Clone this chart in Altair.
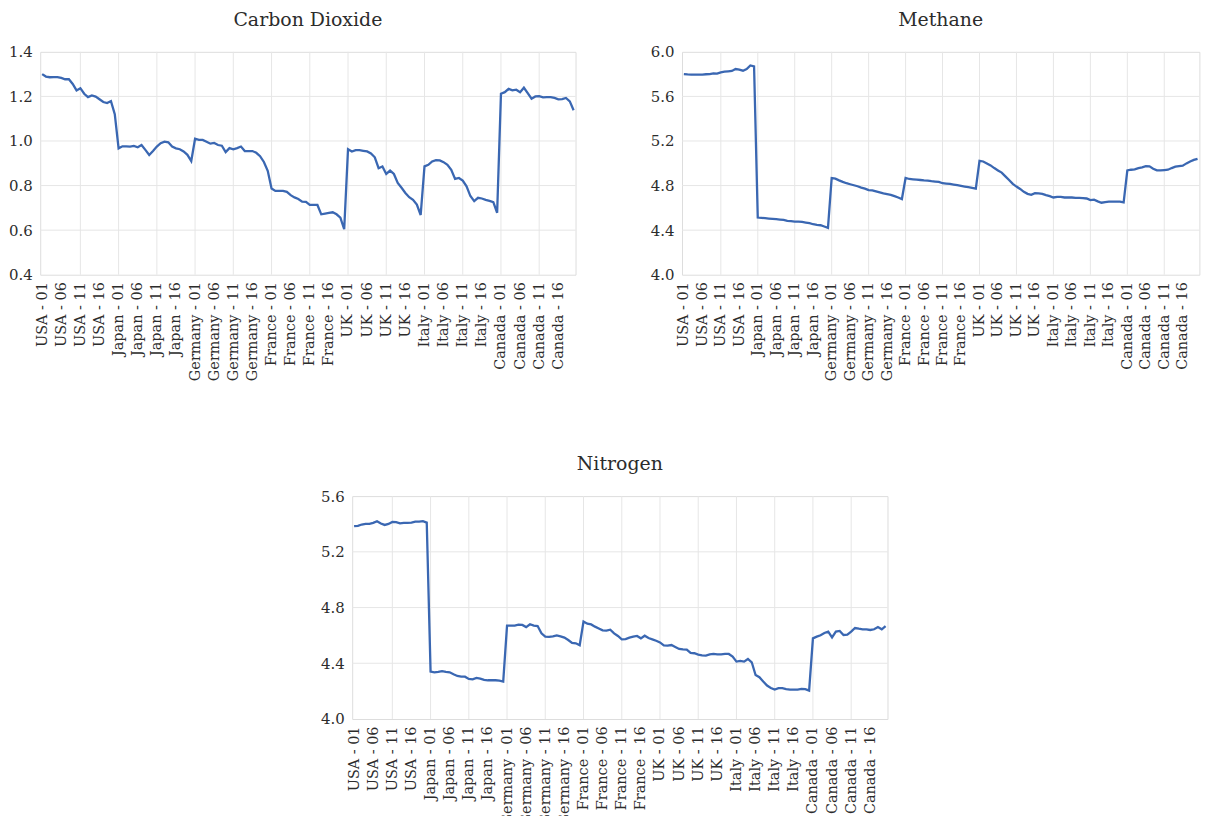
import altair as alt
import pandas as pd

countries = ["USA", "Japan", "Germany", "France", "UK", "Italy", "Canada"]
periods = [f"{k:02d}" for k in range(1, 21)]
categories = [f"{c} - {p}" for c in countries for p in periods]

co2 = [
    1.300, 1.289, 1.286, 1.287, 1.287, 1.283, 1.277, 1.277, 1.256, 1.227, 1.237, 1.212, 1.197, 1.204, 1.199, 1.187, 1.175, 1.170, 1.179, 1.120,
    0.967, 0.976, 0.976, 0.975, 0.978, 0.972, 0.982, 0.960, 0.937, 0.955, 0.975, 0.990, 0.997, 0.994, 0.975, 0.967, 0.963, 0.953, 0.938, 0.910,
    1.010, 1.005, 1.005, 0.997, 0.988, 0.991, 0.982, 0.979, 0.950, 0.968, 0.963, 0.968, 0.975, 0.955, 0.955, 0.955, 0.947, 0.932, 0.906, 0.866,
    0.787, 0.776, 0.776, 0.776, 0.772, 0.757, 0.747, 0.740, 0.728, 0.727, 0.713, 0.713, 0.713, 0.671, 0.674, 0.677, 0.680, 0.671, 0.656, 0.604,
    0.963, 0.953, 0.959, 0.959, 0.956, 0.953, 0.944, 0.927, 0.878, 0.886, 0.852, 0.867, 0.852, 0.812, 0.790, 0.767, 0.748, 0.736, 0.715, 0.668,
    0.886, 0.893, 0.908, 0.914, 0.913, 0.905, 0.893, 0.871, 0.830, 0.834, 0.822, 0.797, 0.753, 0.730, 0.745, 0.742, 0.736, 0.731, 0.726, 0.678,
    1.212, 1.219, 1.234, 1.227, 1.230, 1.219, 1.239, 1.215, 1.190, 1.200, 1.201, 1.196, 1.197, 1.197, 1.193, 1.187, 1.188, 1.193, 1.178, 1.138,
]

methane = [
    5.801, 5.798, 5.796, 5.796, 5.796, 5.796, 5.799, 5.800, 5.807, 5.804, 5.816, 5.822, 5.825, 5.828, 5.846, 5.840, 5.831, 5.846, 5.878, 5.870,
    4.513, 4.510, 4.507, 4.504, 4.501, 4.498, 4.495, 4.492, 4.483, 4.480, 4.477, 4.477, 4.474, 4.468, 4.462, 4.453, 4.447, 4.444, 4.433, 4.421,
    4.868, 4.862, 4.847, 4.833, 4.821, 4.812, 4.803, 4.794, 4.782, 4.773, 4.759, 4.756, 4.747, 4.738, 4.729, 4.723, 4.717, 4.705, 4.693, 4.679,
    4.868, 4.859, 4.856, 4.853, 4.850, 4.846, 4.844, 4.839, 4.836, 4.833, 4.821, 4.818, 4.815, 4.809, 4.803, 4.797, 4.791, 4.785, 4.779, 4.773,
    5.022, 5.016, 4.999, 4.981, 4.957, 4.936, 4.916, 4.883, 4.850, 4.815, 4.791, 4.770, 4.744, 4.726, 4.717, 4.732, 4.729, 4.726, 4.714, 4.705,
    4.693, 4.699, 4.699, 4.693, 4.693, 4.693, 4.690, 4.690, 4.687, 4.684, 4.670, 4.673, 4.658, 4.646, 4.652, 4.655, 4.655, 4.655, 4.655, 4.649,
    4.936, 4.942, 4.945, 4.957, 4.963, 4.975, 4.972, 4.951, 4.936, 4.936, 4.939, 4.942, 4.957, 4.969, 4.975, 4.978, 4.999, 5.016, 5.030, 5.040,
]

nitrogen = [
    5.384, 5.386, 5.396, 5.401, 5.401, 5.408, 5.420, 5.403, 5.393, 5.400, 5.415, 5.413, 5.405, 5.408, 5.408, 5.410, 5.417, 5.417, 5.420, 5.410,
    4.340, 4.335, 4.338, 4.343, 4.338, 4.335, 4.321, 4.309, 4.304, 4.304, 4.288, 4.285, 4.295, 4.290, 4.281, 4.278, 4.278, 4.278, 4.276, 4.269,
    4.670, 4.670, 4.670, 4.677, 4.675, 4.660, 4.680, 4.670, 4.667, 4.615, 4.591, 4.589, 4.593, 4.600, 4.593, 4.584, 4.567, 4.546, 4.543, 4.529,
    4.699, 4.684, 4.679, 4.663, 4.650, 4.636, 4.634, 4.641, 4.615, 4.596, 4.572, 4.574, 4.584, 4.591, 4.596, 4.579, 4.598, 4.581, 4.572, 4.562,
    4.550, 4.529, 4.527, 4.531, 4.517, 4.503, 4.500, 4.498, 4.474, 4.472, 4.462, 4.457, 4.455, 4.464, 4.467, 4.464, 4.464, 4.467, 4.467, 4.448,
    4.412, 4.417, 4.412, 4.431, 4.407, 4.316, 4.300, 4.269, 4.240, 4.223, 4.211, 4.221, 4.221, 4.214, 4.211, 4.211, 4.211, 4.216, 4.214, 4.204,
    4.579, 4.591, 4.601, 4.617, 4.627, 4.586, 4.627, 4.632, 4.603, 4.605, 4.627, 4.653, 4.648, 4.644, 4.644, 4.639, 4.644, 4.660, 4.644, 4.667,
]

label_positions = list(range(0, 140, 5))
vgrid_positions = list(range(10, 140, 10))

co2_ticks = [0.4, 0.6, 0.8, 1.0, 1.2, 1.4]
methane_ticks = [4.0, 4.4, 4.8, 5.2, 5.6, 6.0]
nitrogen_ticks = [4.0, 4.4, 4.8, 5.2, 5.6]

FONT = "DejaVu Serif"
TXT = "#2c2c2c"
LINE = "#3a67b2"
GRID = "#e6e6e6"
PH = 224

label_expr = "[" + ",".join(f"'{c}'" for c in categories) + "][datum.value]"


def panel(title, values, ticks, width):
    df = pd.DataFrame({"i": list(range(len(values))), "v": values, "cat": categories})
    xs = alt.Scale(domain=[-0.5, len(values) - 0.5], nice=False, zero=False)
    ys = alt.Scale(domain=[ticks[0], ticks[-1]], nice=False, zero=False)
    xaxis = alt.Axis(values=label_positions, labelExpr=label_expr, labelAngle=270,
                     labelAlign="right", labelBaseline="middle", labelFont=FONT,
                     labelFontSize=14.5, labelColor=TXT, labelPadding=7, labelFlush=False,
                     labelOverlap=False, ticks=False, domain=False, grid=False, title=None)
    yaxis = alt.Axis(values=ticks, format=".1f", labelFont=FONT, labelFontSize=15,
                     labelColor=TXT, labelPadding=8, ticks=False, domain=False,
                     grid=False, title=None)
    vgrid = alt.Chart(pd.DataFrame({"i": vgrid_positions})).mark_rule(
        color=GRID, strokeWidth=1).encode(x=alt.X("i:Q", scale=xs, axis=xaxis))
    hgrid = alt.Chart(pd.DataFrame({"v": ticks[1:-1]})).mark_rule(
        color=GRID, strokeWidth=1).encode(y=alt.Y("v:Q", scale=ys, axis=yaxis))
    line = alt.Chart(df).mark_line(color=LINE, strokeWidth=2.3).encode(
        x=alt.X("i:Q", scale=xs, axis=xaxis),
        y=alt.Y("v:Q", scale=ys, axis=yaxis),
        tooltip=["cat:N", "v:Q"],
    )
    return alt.layer(vgrid, hgrid, line).properties(
        width=width, height=PH,
        title=alt.TitleParams(title, font=FONT, fontSize=19, fontWeight="normal",
                              color=TXT, anchor="middle", frame="group",
                              baseline="alphabetic", offset=0),
    )


top = alt.hconcat(
    panel("Carbon Dioxide", co2, co2_ticks, 538),
    panel("Methane", methane, methane_ticks, 520),
    spacing=70,
)

chart = alt.vconcat(
    top,
    panel("Nitrogen", nitrogen, nitrogen_ticks, 538),
    spacing=72.5,
    center=True,
).properties(
    padding={"left": 0, "top": 0, "right": 0, "bottom": 0}
).configure_view(strokeWidth=0).configure(background="white")

chart.save("out.html", embed_options={"renderer": "svg", "actions": False})
